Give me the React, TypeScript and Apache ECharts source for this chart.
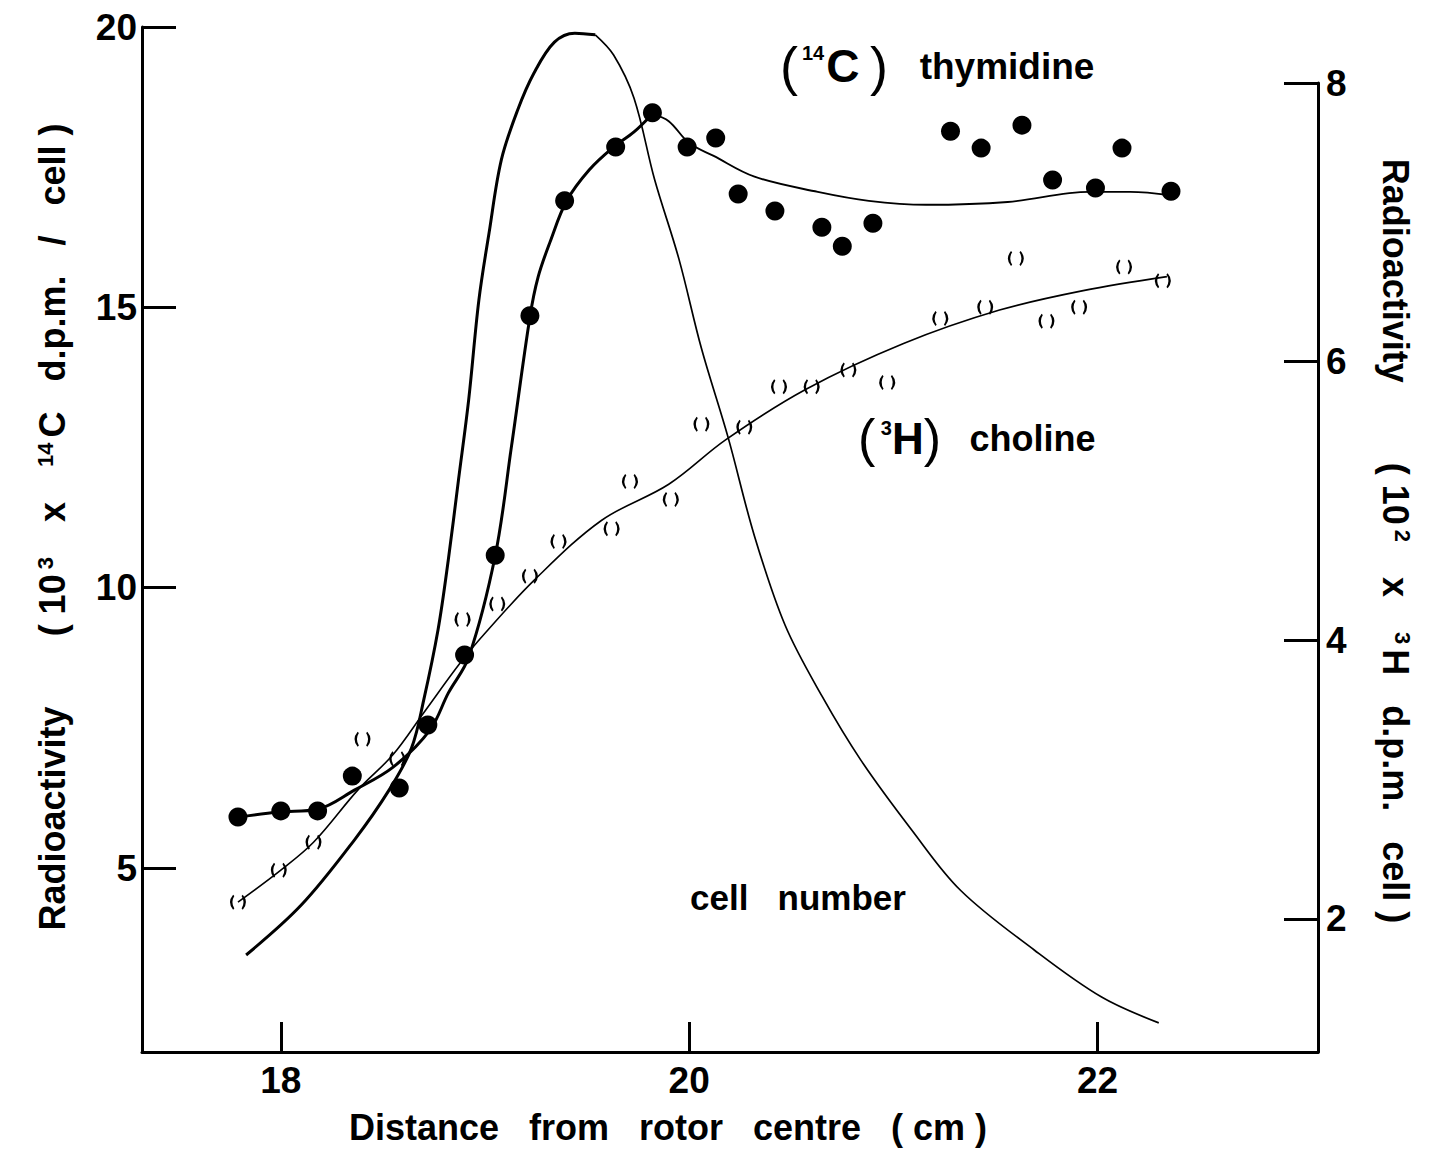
import React, { useEffect, useRef } from "react";
import * as echarts from "echarts";

// Axis tick values
const xTicks = [18, 20, 22];
const leftTicks = [5, 10, 15, 20];
const rightTicks = [2, 4, 6, 8];

// [14C] thymidine, 10^3 x 14C d.p.m. / cell (left axis)
const thymidinePoints: [number, number][] = [
  [17.79, 5.91], [18.0, 6.02], [18.18, 6.02], [18.35, 6.64], [18.58, 6.43],
  [18.72, 7.55], [18.9, 8.8], [19.05, 10.58], [19.22, 14.85], [19.39, 16.9],
  [19.64, 17.86], [19.82, 18.47], [19.99, 17.86], [20.13, 18.02], [20.24, 17.02],
  [20.42, 16.72], [20.65, 16.43], [20.75, 16.09], [20.9, 16.5], [21.28, 18.14],
  [21.43, 17.84], [21.63, 18.25], [21.78, 17.27], [21.99, 17.13], [22.12, 17.84],
  [22.36, 17.07],
];

// Hand-drawn fit through the thymidine points (rising limb and plateau)
const thymidineFitRise: [number, number][] = [
  [17.79, 5.91], [17.99, 6.0], [18.18, 6.05], [18.36, 6.39], [18.55, 6.8],
  [18.73, 7.46], [18.82, 8.12], [18.92, 8.76], [19.05, 10.57], [19.13, 12.53],
  [19.22, 14.83], [19.26, 15.54], [19.32, 16.18], [19.4, 16.9], [19.51, 17.45],
  [19.63, 17.86], [19.73, 18.13], [19.82, 18.45],
];
const thymidineFitFall: [number, number][] = [
  [19.82, 18.45], [19.9, 18.32], [20.0, 17.93], [20.12, 17.7], [20.32, 17.33],
  [20.63, 17.06], [20.88, 16.9], [21.16, 16.83], [21.56, 16.88], [21.96, 17.06],
  [22.16, 17.06], [22.36, 17.0],
];

// [3H] choline, 10^2 x 3H d.p.m. / cell (right axis)
const cholinePoints: [number, number][] = [
  [17.79, 2.12], [17.99, 2.35], [18.16, 2.55], [18.4, 3.29], [18.57, 3.15],
  [18.89, 4.15], [19.06, 4.26], [19.22, 4.46], [19.36, 4.71], [19.62, 4.8],
  [19.71, 5.14], [19.91, 5.01], [20.06, 5.55], [20.27, 5.53], [20.44, 5.82],
  [20.6, 5.82], [20.78, 5.94], [20.97, 5.85], [21.23, 6.31], [21.45, 6.39],
  [21.6, 6.74], [21.75, 6.29], [21.91, 6.39], [22.13, 6.68], [22.32, 6.58],
];
const cholineFit: [number, number][] = [
  [17.79, 2.12], [18.0, 2.35], [18.16, 2.55], [18.38, 2.93], [18.55, 3.18],
  [18.7, 3.48], [18.88, 3.84], [19.0, 4.05], [19.24, 4.43], [19.57, 4.86],
  [19.9, 5.12], [20.18, 5.44], [20.57, 5.8], [21.05, 6.13], [21.52, 6.37],
  [21.93, 6.51], [22.34, 6.61],
];

// Cell number profile (relative, plotted against the left scale)
const cellNumberRise: [number, number][] = [
  [17.83, 3.45], [18.1, 4.34], [18.36, 5.5], [18.53, 6.39], [18.64, 7.14],
  [18.7, 8.0], [18.77, 9.25], [18.82, 10.49], [18.87, 11.92], [18.92, 13.35],
  [18.97, 15.13], [19.02, 16.33], [19.08, 17.63], [19.16, 18.52], [19.24, 19.18],
  [19.34, 19.73], [19.44, 19.89], [19.54, 19.86],
];
const cellNumberFall: [number, number][] = [
  [19.54, 19.86], [19.63, 19.5], [19.73, 18.73], [19.83, 17.29], [19.95, 15.86],
  [20.06, 14.27], [20.19, 12.69], [20.32, 10.92], [20.47, 9.33], [20.65, 8.07],
  [20.84, 6.93], [21.09, 5.68], [21.33, 4.6], [21.69, 3.54], [22.02, 2.7],
  [22.3, 2.24],
];

const FONT = "'Liberation Sans', Arial, Helvetica, sans-serif";
const INK = "#000";

// Open-circle marker drawn as a pair of thin arcs "( )"
const parenSymbol =
  "path://M3,0 Q-2.2,6 3,12 L4,11 Q0.8,6 4,1 Z M11,0 Q16.2,6 11,12 L10,11 Q13.2,6 10,1 Z";

const X_MIN = 17.32;
const X_MAX = 23.08;

export default function App() {
  const ref = useRef<HTMLDivElement>(null);

  useEffect(() => {
    if (!ref.current) return;
    const chart = echarts.init(ref.current, undefined, { renderer: "svg" });

    const axisLineStyle = { color: INK, width: 3 };
    const tickLabel = {
      color: INK,
      fontFamily: FONT,
      fontWeight: "bold" as const,
      fontSize: 37,
    };

    const fitLine = (
      name: string,
      data: [number, number][],
      width: number,
      axisIdx: number
    ) => ({
      name,
      type: "line",
      xAxisIndex: axisIdx,
      yAxisIndex: axisIdx,
      data,
      smooth: 0.35,
      showSymbol: false,
      symbol: "none",
      lineStyle: { color: INK, width },
      z: 2,
    });

    chart.setOption({
      animation: false,
      backgroundColor: "#fff",
      grid: [
        { left: 142, right: 131, top: 27, bottom: 100 },
        { left: 142, right: 131, top: 83, bottom: 100 },
      ],
      xAxis: [
        {
          type: "value",
          gridIndex: 0,
          min: X_MIN,
          max: X_MAX,
          axisLine: { onZero: false, lineStyle: axisLineStyle },
          axisTick: {
            inside: true,
            length: 30,
            lineStyle: { color: INK, width: 3 },
            customValues: xTicks,
          },
          axisLabel: { ...tickLabel, margin: 10, customValues: xTicks },
          splitLine: { show: false },
        },
        { type: "value", gridIndex: 1, min: X_MIN, max: X_MAX, show: false },
      ],
      yAxis: [
        {
          type: "value",
          gridIndex: 0,
          position: "left",
          min: 1.72,
          max: 20,
          axisLine: { show: true, onZero: false, lineStyle: axisLineStyle },
          axisTick: {
            show: true,
            inside: true,
            length: 34,
            lineStyle: { color: INK, width: 3 },
            customValues: leftTicks,
          },
          axisLabel: { ...tickLabel, margin: 5, customValues: leftTicks },
          splitLine: { show: false },
        },
        {
          type: "value",
          gridIndex: 1,
          position: "right",
          min: 1.045,
          max: 8,
          axisLine: { show: true, onZero: false, lineStyle: axisLineStyle },
          axisTick: {
            show: true,
            inside: true,
            length: 34,
            lineStyle: { color: INK, width: 3 },
            customValues: rightTicks,
          },
          axisLabel: { ...tickLabel, margin: 8, customValues: rightTicks },
          splitLine: { show: false },
        },
      ],
      series: [
        fitLine("cell number", cellNumberRise, 3, 0),
        fitLine("cell number (falling)", cellNumberFall, 1.7, 0),
        fitLine("thymidine fit", thymidineFitRise, 3, 0),
        fitLine("thymidine fit (plateau)", thymidineFitFall, 1.9, 0),
        fitLine("choline fit", cholineFit, 1.6, 1),
        {
          name: "[14C] thymidine",
          type: "scatter",
          xAxisIndex: 0,
          yAxisIndex: 0,
          data: thymidinePoints,
          symbol: "circle",
          symbolSize: 19,
          itemStyle: { color: INK, opacity: 1 },
          z: 4,
        },
        {
          name: "[3H] choline",
          type: "scatter",
          xAxisIndex: 1,
          yAxisIndex: 1,
          data: cholinePoints,
          symbol: parenSymbol,
          symbolSize: [16, 15],
          itemStyle: { color: INK, opacity: 1 },
          z: 4,
        },
      ],
      graphic: [
        {
          type: "text",
          x: 780,
          y: 66,
          style: {
            text: "{b|(}{s|14}{c|C}{g| }{b|)}{g|   }{t|thymidine}",
            align: "left",
            verticalAlign: "middle",
            fill: INK,
            rich: {
              b: { fontFamily: FONT, fontSize: 54, fill: INK },
              s: { fontFamily: FONT, fontSize: 20, fontWeight: "bold", verticalAlign: "top", padding: [4, 2, 0, 4], fill: INK },
              c: { fontFamily: FONT, fontSize: 46, fontWeight: "bold", fill: INK },
              g: { fontFamily: FONT, fontSize: 38 },
              t: { fontFamily: FONT, fontSize: 37, fontWeight: "bold", fill: INK },
            },
          },
        },
        {
          type: "text",
          x: 858,
          y: 438,
          style: {
            text: "{b|(}{s| 3}{h|H}{b|)}{g|   }{t|choline}",
            align: "left",
            verticalAlign: "middle",
            fill: INK,
            rich: {
              b: { fontFamily: FONT, fontSize: 52, fill: INK },
              s: { fontFamily: FONT, fontSize: 20, fontWeight: "bold", verticalAlign: "top", padding: [6, 0, 0, 0], fill: INK },
              h: { fontFamily: FONT, fontSize: 44, fontWeight: "bold", fill: INK },
              g: { fontFamily: FONT, fontSize: 34 },
              t: { fontFamily: FONT, fontSize: 36, fontWeight: "bold", fill: INK },
            },
          },
        },
        {
          type: "text",
          x: 690,
          y: 897,
          style: {
            text: "cell   number",
            fontFamily: FONT,
            fontSize: 35,
            fontWeight: "bold",
            fill: INK,
            align: "left",
            verticalAlign: "middle",
          },
        },
        {
          type: "text",
          x: 668,
          y: 1127,
          style: {
            text: "Distance   from   rotor   centre   ( cm )",
            fontFamily: FONT,
            fontSize: 36,
            fontWeight: "bold",
            fill: INK,
            align: "center",
            verticalAlign: "middle",
          },
        },
        {
          type: "text",
          x: 52,
          y: 527,
          rotation: Math.PI / 2,
          style: {
            text: "{t|Radioactivity       ( 10}{s|3}{t|   x   }{s|14}{t|C   d.p.m.   /   cell )}",
            align: "center",
            verticalAlign: "middle",
            fill: INK,
            rich: {
              t: { fontFamily: FONT, fontSize: 36, fontWeight: "bold", fill: INK },
              s: { fontFamily: FONT, fontSize: 22, fontWeight: "bold", verticalAlign: "top", padding: [0, 5, 0, 5], fill: INK },
            },
          },
        },
        {
          type: "text",
          x: 1395,
          y: 541,
          rotation: -Math.PI / 2,
          style: {
            text: "{t|Radioactivity        ( 10}{s|2}{t|   x   }{s|3}{t|H   d.p.m.   cell )}",
            align: "center",
            verticalAlign: "middle",
            fill: INK,
            rich: {
              t: { fontFamily: FONT, fontSize: 36, fontWeight: "bold", fill: INK },
              s: { fontFamily: FONT, fontSize: 22, fontWeight: "bold", verticalAlign: "top", padding: [0, 5, 0, 5], fill: INK },
            },
          },
        },
      ],
    });

    return () => chart.dispose();
  }, []);

  return (
    <div
      ref={ref}
      style={{ position: "absolute", left: 0, top: 0, width: 1449, height: 1152, background: "#fff" }}
    />
  );
}
